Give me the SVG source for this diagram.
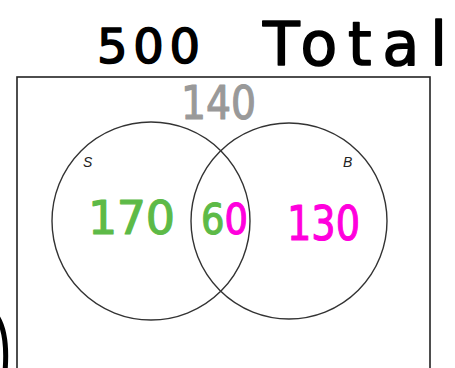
<svg xmlns="http://www.w3.org/2000/svg" width="455" height="368" viewBox="0 0 455 368">
  <style>
    .hand { font-family: "DejaVu Sans", "Liberation Sans", sans-serif; stroke-linejoin: round; stroke-linecap: round; }
    .black { fill: #000; stroke: #000; stroke-width: 1.6; }
    .gray { fill: #999; stroke: #999; stroke-width: 1.2; }
    .green { fill: #5dba47; stroke: #5dba47; stroke-width: 1.2; }
    .magenta { fill: #ff00dd; stroke: #ff00dd; stroke-width: 1.2; }
    .set { fill: none; stroke: #333; stroke-width: 1.4; }
    .lbl { font-family: "Liberation Sans", Arial, sans-serif; font-style: italic; font-size: 14px; fill: #222; }
  </style>
  <rect width="455" height="368" fill="#fff"/>
  <g id="title">
    <text class="hand black" x="97" y="63" font-size="48" textLength="103" lengthAdjust="spacing">500</text>
    <text class="hand black" x="263" y="65" font-size="60" textLength="184" lengthAdjust="spacing">Total</text>
  </g>
  <g id="universe">
    <rect x="17" y="77" width="413" height="300" fill="none" stroke="#222" stroke-width="1.6"/>
  </g>
  <g id="set-S">
    <circle class="set" cx="151" cy="221" r="99"/>
    <text class="lbl" x="83" y="167">S</text>
  </g>
  <g id="set-B">
    <circle class="set" cx="289" cy="221" r="98"/>
    <text class="lbl" x="343" y="167">B</text>
  </g>
  <g id="count-outside">
    <text class="hand gray" x="181" y="119" font-size="46" textLength="75" lengthAdjust="spacingAndGlyphs">140</text>
  </g>
  <g id="count-S-only">
    <text class="hand green" x="88" y="234" font-size="46" textLength="87" lengthAdjust="spacing">170</text>
  </g>
  <g id="count-both">
    <text class="hand" x="201" y="234" font-size="43" textLength="47" lengthAdjust="spacingAndGlyphs"><tspan class="green">6</tspan><tspan class="magenta">0</tspan></text>
  </g>
  <g id="count-B-only">
    <text class="hand magenta" x="287" y="240" font-size="48" textLength="73" lengthAdjust="spacingAndGlyphs">130</text>
  </g>
  <g id="mark">
    <path d="M-2,318 Q8,335 5,372" fill="none" stroke="#000" stroke-width="5" stroke-linecap="round"/>
  </g>
</svg>
